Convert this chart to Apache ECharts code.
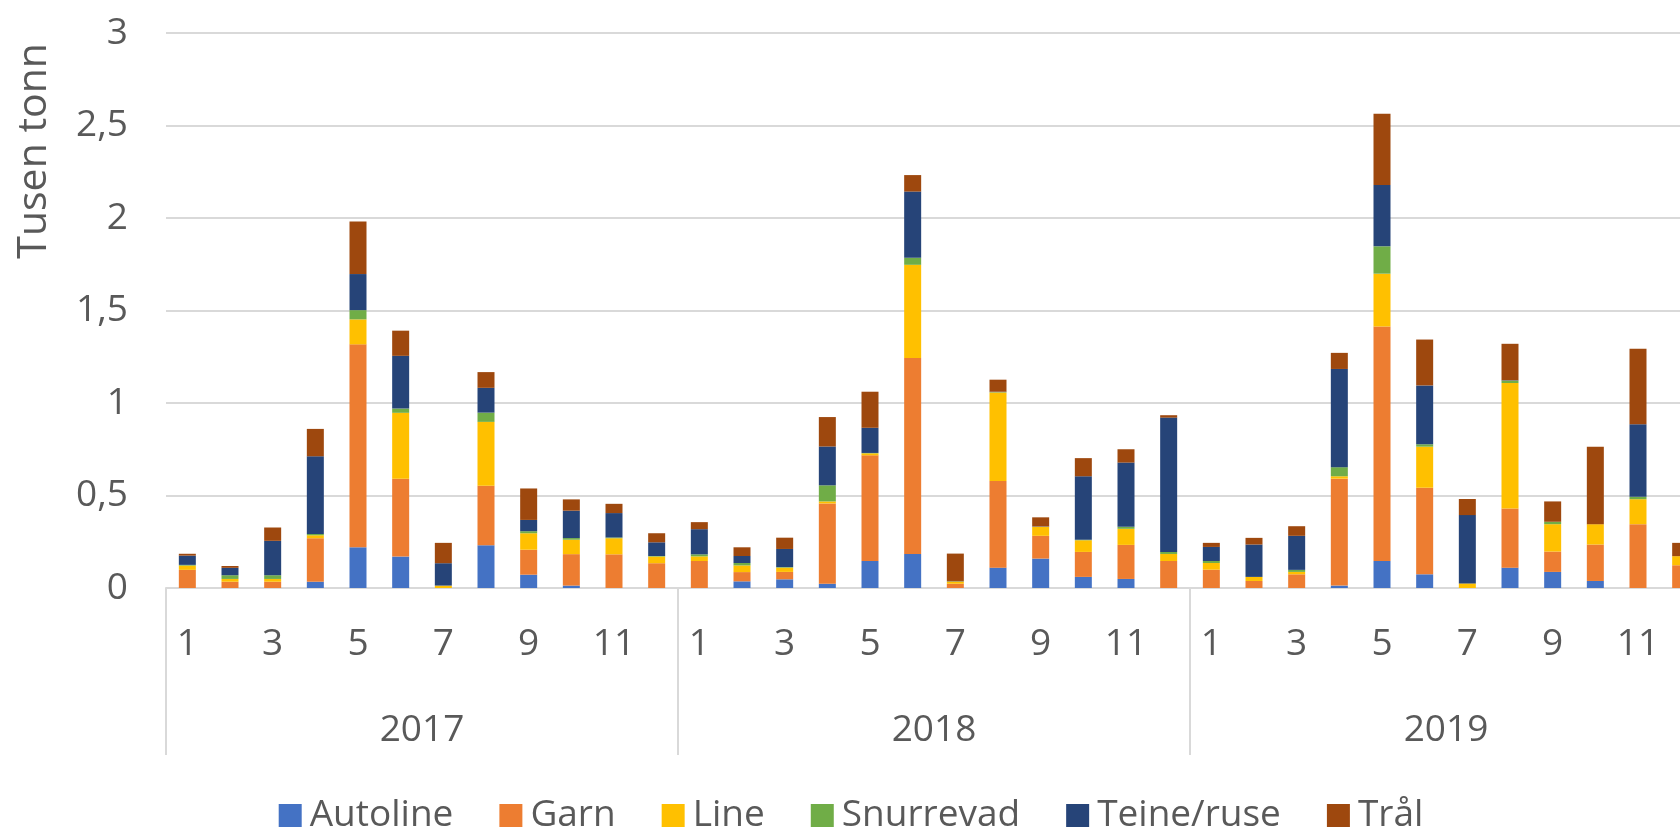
<!DOCTYPE html>
<html>
<head>
<meta charset="utf-8">
<title>Fangst per redskap</title>
<script src="https://cdn.jsdelivr.net/npm/echarts@6/dist/echarts.min.js"></script>
<style>
    html, body { margin: 0; padding: 0; overflow: hidden; background: #fff; }
    #main-chart { width: 1702px; height: 838px; }
</style>
</head>
<body>
<div id="main-chart"></div>
<script>
// data (tusen tonn), months 1-12 for 2017, 2018, 2019
var years = ['2017', '2018', '2019'];
var months = ['1', '2', '3', '4', '5', '6', '7', '8', '9', '10', '11', '12'];
var yTicks = [0, 0.5, 1, 1.5, 2, 2.5, 3];

var autoline = [
    0, 0, 0, 0.034, 0.22, 0.17, 0, 0.231, 0.072, 0.013, 0, 0,
    0, 0.036, 0.047, 0.023, 0.146, 0.184, 0, 0.11, 0.159, 0.06, 0.049, 0,
    0, 0, 0, 0.013, 0.146, 0.074, 0, 0.11, 0.087, 0.038, 0, 0
];
var garn = [
    0.098, 0.034, 0.034, 0.235, 1.097, 0.421, 0, 0.322, 0.135, 0.17, 0.182, 0.134,
    0.146, 0.05, 0.04, 0.434, 0.571, 1.059, 0.023, 0.468, 0.123, 0.135, 0.184, 0.146,
    0.099, 0.038, 0.074, 0.578, 1.268, 0.468, 0, 0.32, 0.11, 0.197, 0.345, 0.123
];
var line = [
    0.023, 0.015, 0.015, 0.016, 0.135, 0.356, 0.013, 0.345, 0.089, 0.078, 0.087, 0.036,
    0.025, 0.036, 0.023, 0.011, 0.011, 0.504, 0.013, 0.479, 0.049, 0.063, 0.087, 0.038,
    0.036, 0.022, 0.013, 0.013, 0.285, 0.222, 0.025, 0.678, 0.148, 0.11, 0.135, 0.049
];
var snurrevad = [
    0.004, 0.02, 0.02, 0.007, 0.05, 0.023, 0, 0.05, 0.011, 0.009, 0.004, 0.003,
    0.011, 0.013, 0.003, 0.087, 0.002, 0.038, 0, 0.002, 0, 0.003, 0.011, 0.011,
    0.011, 0, 0.011, 0.049, 0.148, 0.013, 0, 0.013, 0.013, 0, 0.013, 0
];
var teine = [
    0.05, 0.04, 0.186, 0.42, 0.195, 0.285, 0.121, 0.134, 0.061, 0.148, 0.132, 0.074,
    0.136, 0.038, 0.098, 0.21, 0.136, 0.358, 0.002, 0.002, 0.002, 0.343, 0.347, 0.726,
    0.076, 0.175, 0.184, 0.531, 0.331, 0.318, 0.369, 0.002, 0, 0, 0.392, 0
];
var traal = [
    0.01, 0.01, 0.072, 0.148, 0.284, 0.136, 0.11, 0.085, 0.17, 0.061, 0.05, 0.049,
    0.038, 0.047, 0.061, 0.159, 0.195, 0.089, 0.148, 0.065, 0.049, 0.098, 0.072, 0.013,
    0.022, 0.036, 0.052, 0.087, 0.385, 0.248, 0.087, 0.197, 0.11, 0.419, 0.408, 0.072
];

var seriesNames = ['Autoline', 'Garn', 'Line', 'Snurrevad', 'Teine/ruse', 'Trål'];
var seriesData = [autoline, garn, line, snurrevad, teine, traal];
var colors = ['#4472C4', '#ED7D31', '#FFC000', '#70AD47', '#264478', '#9E480E'];

var font = '"Open Sans", "Noto Sans", sans-serif';
var textGray = '#595959';
var lineGray = '#d9d9d9';

// month labels repeated for each year
var monthCats = [];
for (var y = 0; y < years.length; y++) {
    for (var m = 0; m < months.length; m++) {
        monthCats.push(months[m]);
    }
}

var myChart = echarts.init(document.getElementById('main-chart'));

var series = [];
for (var i = 0; i < seriesNames.length; i++) {
    series.push({
        name: seriesNames[i],
        type: 'bar',
        stack: 'total',
        barWidth: 17,
        xAxisIndex: 0,
        itemStyle: { color: colors[i] },
        data: seriesData[i]
    });
}

var option = {
    animation: false,
    color: colors,
    textStyle: { fontFamily: font },
    grid: {
        left: 166,
        right: 0,
        top: 33,
        bottom: 250
    },
    legend: {
        data: seriesNames,
        left: 'center',
        top: 792,
        icon: 'rect',
        itemWidth: 23,
        itemHeight: 23,
        itemGap: 46,
        textStyle: {
            fontFamily: font,
            fontSize: 37,
            color: textGray,
            padding: [0, 0, 0, 3]
        }
    },
    graphic: [{
        type: 'text',
        left: 14,
        top: 43,
        rotation: Math.PI / 2,
        style: {
            text: 'Tusen tonn',
            fontFamily: font,
            fontSize: 41,
            fill: textGray
        }
    }],
    xAxis: [
        {
            type: 'category',
            data: monthCats,
            position: 'bottom',
            axisLine: { show: true, lineStyle: { color: lineGray, width: 2 } },
            axisTick: { show: false },
            axisLabel: {
                interval: 1,
                margin: 38,
                fontSize: 37,
                fontFamily: font,
                color: textGray
            }
        },
        {
            type: 'category',
            data: years,
            position: 'bottom',
            gridIndex: 0,
            axisLine: { show: false },
            axisTick: {
                show: true,
                interval: 0,
                length: 167,
                lineStyle: { color: lineGray, width: 2 }
            },
            axisLabel: {
                margin: 124,
                fontSize: 37,
                fontFamily: font,
                color: textGray
            }
        }
    ],
    yAxis: {
        type: 'value',
        min: yTicks[0],
        max: yTicks[yTicks.length - 1],
        interval: 0.5,
        axisLine: { show: false },
        axisTick: { show: false },
        splitLine: { lineStyle: { color: lineGray, width: 2 } },
        axisLabel: {
            margin: 38,
            fontSize: 37,
            fontFamily: font,
            color: textGray,
            formatter: function (v) {
                return String(v).replace('.', ',');
            }
        }
    },
    series: series
};
myChart.setOption(option);
</script>
</body>
</html>
